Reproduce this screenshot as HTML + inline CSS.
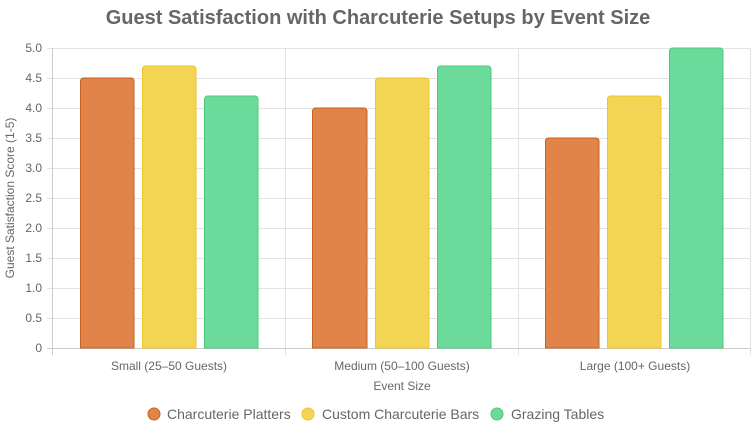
<!DOCTYPE html>
<html><head><meta charset="utf-8"><style>
html,body{margin:0;padding:0;background:#fff;}
svg{display:block;font-family:"Liberation Sans",Arial,sans-serif;}
</style></head><body>
<svg width="751" height="433" viewBox="0 0 751 433">
<text x="378" y="24" text-anchor="middle" font-size="20" font-weight="bold" fill="#666">Guest Satisfaction with Charcuterie Setups by Event Size</text>
<g stroke="#e3e3e3" stroke-width="1">
<line x1="47" y1="48.5" x2="751" y2="48.5"/>
<line x1="47" y1="78.5" x2="751" y2="78.5"/>
<line x1="47" y1="108.5" x2="751" y2="108.5"/>
<line x1="47" y1="138.5" x2="751" y2="138.5"/>
<line x1="47" y1="168.5" x2="751" y2="168.5"/>
<line x1="47" y1="198.5" x2="751" y2="198.5"/>
<line x1="47" y1="228.5" x2="751" y2="228.5"/>
<line x1="47" y1="258.5" x2="751" y2="258.5"/>
<line x1="47" y1="288.5" x2="751" y2="288.5"/>
<line x1="47" y1="318.5" x2="751" y2="318.5"/>
<line x1="285.5" y1="48" x2="285.5" y2="355"/>
<line x1="518.5" y1="48" x2="518.5" y2="355"/>
<line x1="750.5" y1="48" x2="750.5" y2="355"/>
</g>
<line x1="52.5" y1="48" x2="52.5" y2="355" stroke="#ccc"/>
<line x1="47" y1="348.5" x2="751" y2="348.5" stroke="#ccc"/>
<g font-size="12" fill="#666" text-anchor="end">
<text x="42" y="52">5.0</text><text x="42" y="82">4.5</text><text x="42" y="112">4.0</text>
<text x="42" y="142">3.5</text><text x="42" y="172">3.0</text><text x="42" y="202">2.5</text>
<text x="42" y="232">2.0</text><text x="42" y="262">1.5</text><text x="42" y="292">1.0</text>
<text x="42" y="322">0.5</text><text x="42" y="352">0</text>
</g>
<text transform="translate(14,198) rotate(-90)" text-anchor="middle" font-size="12" fill="#666">Guest Satisfaction Score (1-5)</text>
<g font-size="12" fill="#666" text-anchor="middle">
<text x="169" y="370">Small (25–50 Guests)</text>
<text x="402" y="370">Medium (50–100 Guests)</text>
<text x="635" y="370">Large (100+ Guests)</text>
<text x="402" y="390">Event Size</text>
</g>
<g stroke-width="1">
<path d="M80.5,348 V81 a3,3 0 0 1 3,-3 H131 a3,3 0 0 1 3,3 V348Z" fill="#e0844a" stroke="#c9621f"/>
<path d="M142.5,348 V69 a3,3 0 0 1 3,-3 H193 a3,3 0 0 1 3,3 V348Z" fill="#f4d453" stroke="#eac52c"/>
<path d="M204.5,348 V99 a3,3 0 0 1 3,-3 H255 a3,3 0 0 1 3,3 V348Z" fill="#6cda9a" stroke="#4cc97c"/>
<path d="M312.5,348 V111 a3,3 0 0 1 3,-3 H364 a3,3 0 0 1 3,3 V348Z" fill="#e0844a" stroke="#c9621f"/>
<path d="M375.5,348 V81 a3,3 0 0 1 3,-3 H426 a3,3 0 0 1 3,3 V348Z" fill="#f4d453" stroke="#eac52c"/>
<path d="M437.5,348 V69 a3,3 0 0 1 3,-3 H488 a3,3 0 0 1 3,3 V348Z" fill="#6cda9a" stroke="#4cc97c"/>
<path d="M545.5,348 V141 a3,3 0 0 1 3,-3 H596 a3,3 0 0 1 3,3 V348Z" fill="#e0844a" stroke="#c9621f"/>
<path d="M607.5,348 V99 a3,3 0 0 1 3,-3 H658 a3,3 0 0 1 3,3 V348Z" fill="#f4d453" stroke="#eac52c"/>
<path d="M669.5,348 V51 a3,3 0 0 1 3,-3 H720 a3,3 0 0 1 3,3 V348Z" fill="#6cda9a" stroke="#4cc97c"/>
</g>
<g font-size="14" fill="#666">
<circle cx="154" cy="414" r="6" fill="#e0844a" stroke="#c9621f"/>
<text x="167" y="419">Charcuterie Platters</text>
<circle cx="308" cy="414" r="6" fill="#f4d453" stroke="#eac52c"/>
<text x="322" y="419">Custom Charcuterie Bars</text>
<circle cx="497" cy="414" r="6" fill="#6cda9a" stroke="#4cc97c"/>
<text x="511" y="419">Grazing Tables</text>
</g>
</svg>
</body></html>
